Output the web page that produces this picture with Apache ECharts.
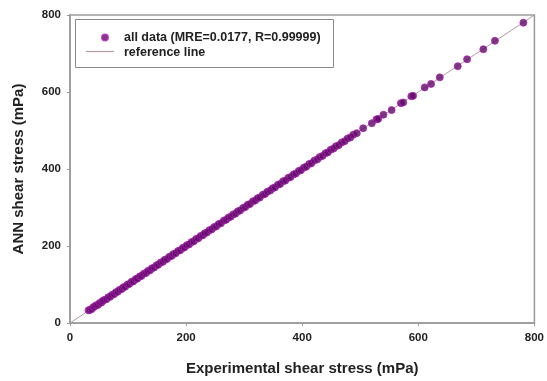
<!DOCTYPE html>
<html>
<head>
<meta charset="utf-8">
<script src="https://cdn.jsdelivr.net/npm/echarts@6/dist/echarts.min.js"></script>
<style>
  html, body { margin: 0; padding: 0; background: #ffffff; }
  #chart { width: 547px; height: 381px; }
</style>
</head>
<body>
<div id="chart"></div>
<script>
// Measured shear stress (mPa)
const experimental = [
  32, 34, 37, 40, 42, 45, 48, 51, 54, 56, 59, 63, 66, 69, 72, 76, 79, 82, 85, 89,
  92, 95, 99, 102, 106, 109, 113, 116, 120, 123, 127, 131, 134, 138, 141, 145, 149, 152, 156, 160,
  163, 167, 171, 175, 178, 182, 186, 190, 194, 197, 201, 205, 209, 213, 217, 221, 225, 229, 232, 236,
  240, 244, 248, 252, 256, 260, 265, 269, 273, 277, 281, 285, 289, 293, 298, 302, 306, 310, 315, 319,
  323, 327, 332, 336, 340, 345, 349, 353, 358, 362, 367, 371, 376, 380, 385, 389, 394, 398, 403, 407,
  412, 416, 421, 426, 430, 435, 440, 444, 449, 454, 458, 463, 468, 473, 478, 483, 488, 494, 505, 520,
  528, 531, 540, 554, 570, 574, 588, 591, 611, 622, 637, 668, 684, 712, 732, 781
];
// ANN-predicted shear stress (mPa)
const predicted = [
  33, 34, 36, 41, 42, 46, 47, 52, 53, 57, 60, 62, 67, 68, 73, 75, 80, 81, 86, 88,
  93, 94, 100, 101, 107, 108, 114, 115, 121, 122, 128, 130, 135, 137, 142, 144, 150, 151, 157, 159,
  164, 166, 172, 174, 179, 181, 187, 189, 195, 196, 202, 204, 210, 212, 218, 220, 226, 228, 233, 235,
  241, 243, 249, 251, 257, 259, 266, 268, 274, 276, 282, 284, 290, 292, 299, 301, 307, 309, 316, 318,
  324, 326, 333, 335, 341, 344, 350, 352, 359, 361, 368, 370, 377, 379, 386, 388, 395, 397, 404, 406,
  413, 415, 422, 425, 431, 434, 441, 443, 450, 453, 459, 462, 469, 472, 479, 482, 489, 493, 506, 519,
  529, 530, 541, 553, 571, 573, 589, 590, 612, 621, 638, 667, 685, 711, 733, 780
];
// Ideal agreement line
const referenceLine = [[0, 0], [800, 800]];
const axisTicks = { min: 0, max: 800, interval: 200 };

const seriesNames = ['all data (MRE=0.0177, R=0.99999)', 'reference line'];
const points = experimental.map((x, i) => [x, predicted[i]]);

const refColor = '#b49aa8';
const labelFont = { fontFamily: 'Liberation Sans, Arial, sans-serif', fontWeight: 'bold', color: '#222' };

const chart = echarts.init(document.getElementById('chart'), null, { renderer: 'canvas' });
chart.setOption({
  animation: false,
  backgroundColor: '#ffffff',
  grid: {
    left: 70, right: 10, top: 15, bottom: 55,
    show: true, borderColor: '#9a9a9a', borderWidth: 1.5, backgroundColor: 'transparent'
  },
  graphic: [
    {
      // legend frame
      type: 'rect',
      left: 75, top: 19,
      shape: { width: 258, height: 48 },
      style: { fill: '#ffffff', stroke: '#8a8a8a', lineWidth: 1 },
      z: 10
    },
    {
      // swatch for the reference line entry
      type: 'line',
      shape: { x1: 86, y1: 51.5, x2: 114, y2: 51.5 },
      style: { stroke: refColor, lineWidth: 1.2 },
      z: 30
    }
  ],
  legend: {
    left: 86, top: 26, orient: 'vertical',
    itemWidth: 28, itemHeight: 6, itemGap: 2,
    z: 20,
    textStyle: { fontFamily: 'Liberation Sans, Arial, sans-serif', fontWeight: 'bold', fontSize: 12.5, color: '#222' },
    data: [
      { name: seriesNames[0] },
      { name: seriesNames[1], icon: 'none' }
    ]
  },
  xAxis: {
    type: 'value', min: axisTicks.min, max: axisTicks.max, interval: axisTicks.interval,
    name: 'Experimental shear stress (mPa)', nameLocation: 'middle', nameGap: 38,
    nameTextStyle: Object.assign({ fontSize: 15 }, labelFont),
    axisLine: { lineStyle: { color: '#9a9a9a', width: 1.5 } },
    axisTick: { show: true, length: 3, lineStyle: { color: '#9a9a9a' } },
    axisLabel: Object.assign({ fontSize: 11.5, margin: 9 }, labelFont),
    splitLine: { show: false }
  },
  yAxis: {
    type: 'value', min: axisTicks.min, max: axisTicks.max, interval: axisTicks.interval,
    name: 'ANN shear stress (mPa)', nameLocation: 'middle', nameGap: 44,
    nameTextStyle: Object.assign({ fontSize: 15 }, labelFont),
    axisLine: { lineStyle: { color: '#9a9a9a', width: 1.5 } },
    axisTick: { show: true, length: 3, lineStyle: { color: '#9a9a9a' } },
    axisLabel: Object.assign({ fontSize: 11.5, margin: 9 }, labelFont),
    splitLine: { show: false }
  },
  series: [
    {
      name: seriesNames[1],
      type: 'line',
      data: referenceLine,
      symbol: 'none',
      lineStyle: { color: refColor, width: 1 },
      itemStyle: { color: refColor },
      z: 1
    },
    {
      name: seriesNames[0],
      type: 'scatter',
      data: points,
      symbol: 'circle',
      symbolSize: 7,
      itemStyle: { color: '#5e0a64', borderColor: '#a820b0', borderWidth: 1 },
      z: 2
    }
  ]
});
</script>
</body>
</html>
